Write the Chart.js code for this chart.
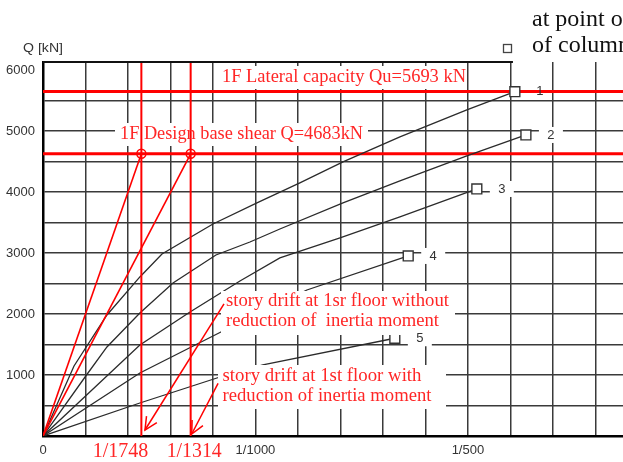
<!DOCTYPE html>
<html><head><meta charset="utf-8">
<script src="https://cdn.jsdelivr.net/npm/chart.js@4/dist/chart.umd.min.js"></script>
<style>html,body{margin:0;padding:0;background:#fff;}#wrap{width:623px;height:462px;}</style>
</head><body><div id="wrap"><canvas id="c" width="623" height="462"></canvas></div>
<script>
// Story drift in 1/1000 units, story shear Q in kN
const curveNames = ['1', '2', '3', '4', '5'];
const curve1Drift = [0, 0.146, 0.301, 0.456, 0.56, 0.80, 1.007, 1.209, 1.412, 1.68, 1.995, 2.221];
const curve1Shear = [0, 1148, 1984, 2607, 2984, 3475, 3820, 4148, 4492, 4902, 5344, 5644];
const curve2Drift = [0, 0.198, 0.301, 0.456, 0.612, 0.814, 0.974, 1.115, 1.412, 1.68, 1.995, 2.273];
const curve2Shear = [0, 967, 1459, 2016, 2508, 2967, 3180, 3393, 3820, 4180, 4590, 4934];
const curve3Drift = [0, 0.456, 0.692, 0.927, 1.115, 1.398, 1.68, 2.042];
const curve3Shear = [0, 1492, 2033, 2541, 2918, 3246, 3590, 4049];
const curve4Drift = [0, 0.456, 0.856, 1.242, 1.719];
const curve4Shear = [0, 1033, 1738, 2393, 2951];
const curve5Drift = [0, 0.456, 0.833, 1.035, 1.656];
const curve5Shear = [0, 541, 967, 1164, 1602];

const capacityLevel = 5645;   // drawn level of "Qu=5693 kN" line
const designLevel = 4625;     // drawn level of "Q=4683kN" line
const driftMarks = [0.463, 0.695];          // red vertical lines (1/1748, 1/1314 marks)
const arrowFromDrift = [0.852, 0.824];
const arrowFromShear = [2164, 864];
const arrowToDrift = [0.48, 0.70];
const arrowToShear = [98, 33];

const xTickValues = [0, 0.2, 0.4, 0.6, 0.8, 1, 1.2, 1.4, 1.6, 1.8, 2, 2.2, 2.4, 2.6];
const xTickText = ['0', '', '', '', '', '1/1000', '', '', '', '', '1/500', '', '', ''];
const yTickValues = [0, 500, 1000, 1500, 2000, 2500, 3000, 3500, 4000, 4500, 5000, 5500, 6000];
const yTickText = ['', '', '1000', '', '2000', '', '3000', '', '4000', '', '5000', '', '6000'];

const RED = '#ff0000';
const RED_TEXT = '#ff2626';
const SERIF = '"Liberation Serif", "Times New Roman", serif';
const SANS = '"Liberation Sans", Arial, sans-serif';

const pts = (xs, ys) => xs.map((x, i) => ({x: x, y: ys[i]}));
const curves = [
  pts(curve1Drift, curve1Shear), pts(curve2Drift, curve2Shear), pts(curve3Drift, curve3Shear),
  pts(curve4Drift, curve4Shear), pts(curve5Drift, curve5Shear)
];

const datasets = [];
curves.forEach((d, i) => datasets.push({
  label: 'Story ' + curveNames[i], data: d, order: 10,
  borderColor: '#2b2b2b', borderWidth: 1.3, tension: 0, fill: false,
  pointStyle: 'rect', pointBorderColor: '#333', pointBackgroundColor: '#fff', pointBorderWidth: 1.4,
  pointRadius: c => c.dataIndex === c.dataset.data.length - 1 ? 7 : 0
}));
[capacityLevel, designLevel].forEach(l => datasets.push({
  data: [{x: 0, y: l}, {x: 2.73, y: l}], order: 20,
  borderColor: RED, borderWidth: 3, pointRadius: 0, fill: false
}));
driftMarks.forEach(m => datasets.push({
  data: [{x: m, y: 0}, {x: m, y: 6130}], order: 0,
  borderColor: RED, borderWidth: 2, pointRadius: 0, fill: false
}));
driftMarks.forEach(m => datasets.push({
  data: [{x: 0, y: 0}, {x: m, y: designLevel}], order: 0,
  borderColor: RED, borderWidth: 1.6, fill: false,
  pointStyle: 'circle', pointBorderColor: RED, pointBackgroundColor: 'rgba(0,0,0,0)', pointBorderWidth: 1.5,
  pointRadius: [0, 4.5]
}));
const arrowStart = datasets.length;
arrowFromDrift.forEach((x, i) => datasets.push({
  data: [{x: x, y: arrowFromShear[i]}, {x: arrowToDrift[i], y: arrowToShear[i]}], order: 0,
  borderColor: RED, borderWidth: 1.5, pointRadius: 0, fill: false
}));

// white label backgrounds (pixels)
const whiteBoxes = [
  [218, 66, 466.5, 89],
  [115, 123, 368, 146],
  [221, 291, 455, 335],
  [218, 365, 446, 409]
];
const redTexts = [
  ['1F Lateral capacity Qu=5693 kN', 222, 466, 77, 18],
  ['1F Design base shear Q=4683kN', 120, 363, 134, 18],
  ['story drift at 1sr floor without', 226, 449, 301.5, 18.5],
  ['reduction of  inertia moment', 226, 439, 321.5, 18.5],
  ['story drift at 1st floor with', 222.5, 421.5, 376.5, 18.5],
  ['reduction of inertia moment', 222.5, 431.5, 396.5, 18.5],
  ['1/1748', 92.7, 148.3, 452, 20],
  ['1/1314', 166.7, 221.7, 452, 20]
];

function fitText(ctx, text, x0, x1, y, size, family, color) {
  ctx.save();
  ctx.font = size + 'px ' + family;
  ctx.fillStyle = color;
  ctx.textBaseline = 'middle';
  ctx.textAlign = 'left';
  const w = ctx.measureText(text).width;
  ctx.translate(x0, y);
  ctx.scale((x1 - x0) / w, 1);
  ctx.fillText(text, 0, 0);
  ctx.restore();
}

const annot = {
  id: 'annot',
  afterDatasetDraw(chart, args) {
    if (args.index !== 0) return;
    const ctx = chart.ctx;
    ctx.save();
    ctx.fillStyle = '#fff';
    whiteBoxes.forEach(b => ctx.fillRect(b[0], b[1], b[2] - b[0], b[3] - b[1]));
    ctx.font = '13px ' + SANS;
    ctx.textAlign = 'center';
    ctx.textBaseline = 'middle';
    curves.forEach((d, i) => {
      const meta = chart.getDatasetMeta(i);
      const p = meta.data[meta.data.length - 1];
      if (i > 0) { ctx.fillStyle = '#fff'; ctx.fillRect(p.x + 13, p.y - 8, 24, 16); }
      ctx.fillStyle = '#333';
      ctx.fillText(curveNames[i], p.x + 25, p.y);
    });
    ctx.restore();
  },
  afterDatasetsDraw(chart) {
    const ctx = chart.ctx, a = chart.chartArea, xs = chart.scales.x;
    ctx.save();
    // arrow heads
    ctx.strokeStyle = RED; ctx.lineWidth = 1.5;
    for (let k = 0; k < 2; k++) {
      const m = chart.getDatasetMeta(arrowStart + k);
      const p0 = m.data[0], p1 = m.data[1];
      const ang = Math.atan2(p1.y - p0.y, p1.x - p0.x);
      ctx.beginPath();
      ctx.moveTo(p1.x - 14 * Math.cos(ang - 0.45), p1.y - 14 * Math.sin(ang - 0.45));
      ctx.lineTo(p1.x, p1.y);
      ctx.lineTo(p1.x - 14 * Math.cos(ang + 0.45), p1.y - 14 * Math.sin(ang + 0.45));
      ctx.stroke();
    }
    // top frame segment
    ctx.strokeStyle = '#111'; ctx.lineWidth = 2;
    ctx.beginPath(); ctx.moveTo(a.left, a.top); ctx.lineTo(xs.getPixelForValue(2.212), a.top); ctx.stroke();
    ctx.restore();
    redTexts.forEach(t => fitText(ctx, t[0], t[1], t[2], t[3], t[4], SERIF, RED_TEXT));
    fitText(ctx, 'Q [kN]', 23, 63, 48, 13, SANS, '#333');
    // surrounding document text (top right)
    ctx.save();
    ctx.font = '24px ' + SERIF; ctx.fillStyle = '#111';
    ctx.textBaseline = 'middle'; ctx.textAlign = 'left';
    ctx.fillText('at point of', 532, 20);
    ctx.fillText('of column', 532, 46);
    ctx.strokeStyle = '#444'; ctx.lineWidth = 1.3;
    ctx.strokeRect(503.5, 44.5, 8, 8);
    ctx.restore();
  }
};

const gridColor = '#3a3a3a';
new Chart(document.getElementById('c'), {
  type: 'line',
  data: {datasets: datasets},
  options: {
    responsive: false, animation: false, events: [],
    layout: {autoPadding: false, padding: {top: 62, left: 0, right: 0, bottom: 0}},
    plugins: {legend: {display: false}, tooltip: {enabled: false}},
    scales: {
      x: {
        type: 'linear', min: 0, max: 2.73,
        afterBuildTicks: s => { s.ticks = xTickValues.map(v => ({value: v})); },
        afterFit: s => { s.height = 26; s.paddingLeft = 0; s.paddingRight = 0; },
        ticks: {autoSkip: false, maxRotation: 0, padding: 7, color: '#333',
          font: {family: SANS, size: 13}, callback: (v, i) => xTickText[i]},
        grid: {drawTicks: false, color: gridColor, lineWidth: 1.5},
        border: {color: '#000', width: 2.5}
      },
      y: {
        type: 'linear', min: 0, max: 6130,
        afterBuildTicks: s => { s.ticks = yTickValues.map(v => ({value: v})); },
        afterFit: s => { s.width = 43; s.paddingTop = 0; s.paddingBottom = 0; },
        ticks: {autoSkip: false, padding: 8, color: '#333',
          font: {family: SANS, size: 13}, callback: (v, i) => yTickText[i]},
        grid: {drawTicks: false, lineWidth: 1.5,
          color: c => (c.tick && c.tick.value === 6000) ? 'rgba(0,0,0,0)' : gridColor},
        border: {color: '#000', width: 2.5}
      }
    }
  },
  plugins: [annot]
});
</script>
</body></html>
